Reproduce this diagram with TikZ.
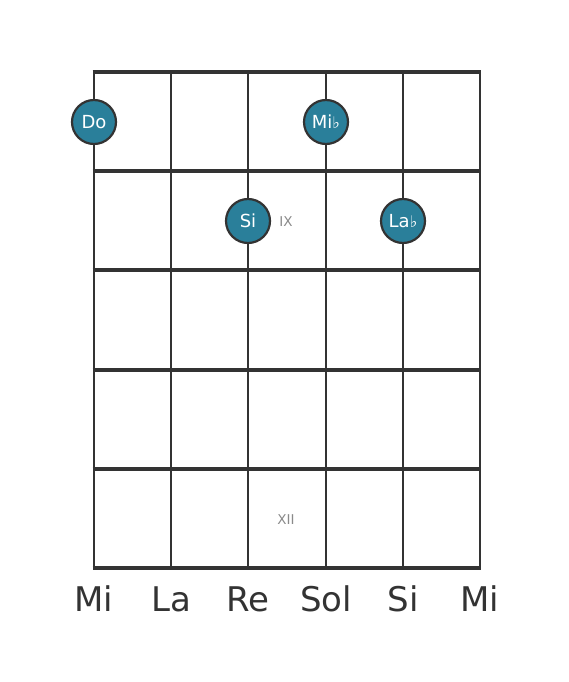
\documentclass[tikz,border=0pt]{standalone}
\usepackage{fontspec}
\setmainfont{DejaVu Sans}
\definecolor{ink}{HTML}{333333}
\definecolor{teal}{HTML}{2A7F9A}
\definecolor{grayt}{HTML}{8A8A8A}
\begin{document}
\begin{tikzpicture}[x=1pt,y=-1pt,
  fretline/.style={draw=ink,line width=4pt},
  stringline/.style={draw=ink,line width=2.8pt},
  notedot/.style={circle,fill=teal,draw=ink,line width=2.2pt,minimum size=44pt,inner sep=0pt,text=white,font=\fontsize{18}{18}\selectfont},
  fretnum/.style={text=grayt,font=\fontsize{13.5}{13.5}\selectfont},
  strname/.style={text=ink,font=\fontsize{34}{34}\selectfont,anchor=base}]
\useasboundingbox (0,0) rectangle (568,682);
\foreach \x in {94,171,248,326,403,480} \draw[stringline] (\x,72) -- (\x,568);
\foreach \y in {72,171,270,370,469,568} \draw[fretline] (92.6,\y) -- (481.4,\y);
\node[notedot] (do) at (94,122) {Do};
\node[notedot] (mib) at (326,122) {Mi\raisebox{0pt}{\fontsize{16}{16}\selectfont♭}};
\node[notedot] (si) at (248,221) {Si};
\node[notedot] (lab) at (403,221) {La\raisebox{0pt}{\fontsize{16}{16}\selectfont♭}};
\node[fretnum] (ix) at (286,222) {IX};
\node[fretnum] (xii) at (286,520) {XII};
\node[strname] (s1) at (94,611) {Mi};
\node[strname] (s2) at (171,611) {La};
\node[strname] (s3) at (248,611) {Re};
\node[strname] (s4) at (326,611) {Sol};
\node[strname] (s5) at (403,611) {Si};
\node[strname] (s6) at (480,611) {Mi};
\end{tikzpicture}
\end{document}
